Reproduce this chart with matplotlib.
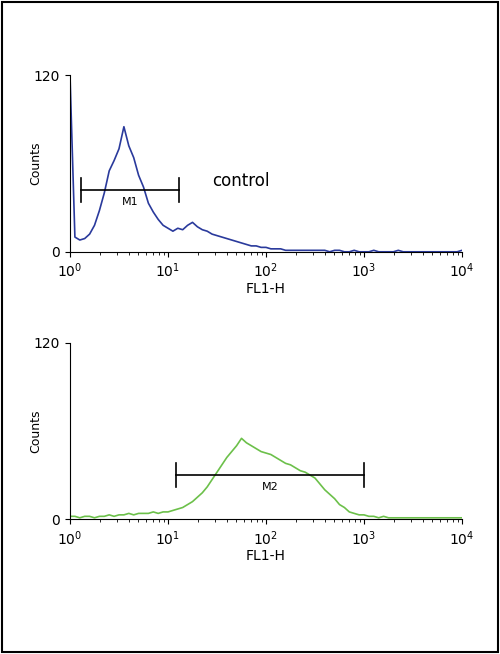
import numpy as np
import matplotlib.pyplot as plt

# log10 channel positions, step 0.05 from 0 to 4
log_fl = np.arange(0, 4.0001, 0.05)

control_counts = [120, 10, 8, 9, 12, 18, 28, 40, 55, 62, 70, 85, 72, 64, 52, 44, 33, 27, 22, 18,
                  16, 14, 16, 15, 18, 20, 17, 15, 14, 12, 11, 10, 9, 8, 7, 6, 5, 4, 4, 3,
                  3, 2, 2, 2, 1, 1, 1, 1, 1, 1, 1, 1, 1, 0, 1, 1, 0, 0, 1, 0,
                  0, 0, 1, 0, 0, 0, 0, 1, 0, 0, 0, 0, 0, 0, 0, 0, 0, 0, 0, 0, 1]

sample_counts = [2, 2, 1, 2, 2, 1, 2, 2, 3, 2, 3, 3, 4, 3, 4, 4, 4, 5, 4, 5,
                 5, 6, 7, 8, 10, 12, 15, 18, 22, 27, 32, 37, 42, 46, 50, 55, 52, 50, 48, 46,
                 45, 44, 42, 40, 38, 37, 35, 33, 32, 30, 28, 24, 20, 17, 14, 10, 8, 5, 4, 3,
                 3, 2, 2, 1, 2, 1, 1, 1, 1, 1, 1, 1, 1, 1, 1, 1, 1, 1, 1, 1, 1]

fig = plt.figure(figsize=(5.0, 6.54), dpi=100)
fig.patches.append(plt.Rectangle((0.004, 0.003), 0.992, 0.994, transform=fig.transFigure,
                                 fill=False, edgecolor='black', linewidth=1.5))

panels = [
    (0.615, control_counts, '#2a3a9c', (1.3, 13), 42, 'M1'),
    (0.206, sample_counts, '#6cc04a', (12, 1000), 30, 'M2'),
]

for bottom, counts, color, (m0, m1), my, mlabel in panels:
    ax = fig.add_axes([0.14, bottom, 0.784, 0.27])
    ax.plot(10 ** log_fl, counts, color=color, linewidth=1.2)
    ax.set_xscale('log')
    ax.set_xlim(1, 1e4)
    ax.set_ylim(0, 120)
    ax.set_yticks([0, 120])
    ax.set_xticks([1, 10, 100, 1000, 10000])
    ax.set_xticklabels(['$10^0$', '$10^1$', '$10^2$', '$10^3$', '$10^4$'])
    ax.set_xlabel('FL1-H', fontsize=10, labelpad=1)
    ax.set_ylabel('Counts', fontsize=9, labelpad=-6)
    ax.tick_params(labelsize=10)
    for s in ['top', 'right']:
        ax.spines[s].set_visible(False)
    ax.plot([m0, m1], [my, my], color='black', linewidth=1.2)
    ax.plot([m0, m0], [my - 8, my + 8], color='black', linewidth=1.2)
    ax.plot([m1, m1], [my - 8, my + 8], color='black', linewidth=1.2)
    ax.text(np.sqrt(m0 * m1), my - 5, mlabel, ha='center', va='top', fontsize=8)
    if mlabel == 'M1':
        ax.text(28, 45, 'control', fontsize=12)

fig.savefig('out.png')
